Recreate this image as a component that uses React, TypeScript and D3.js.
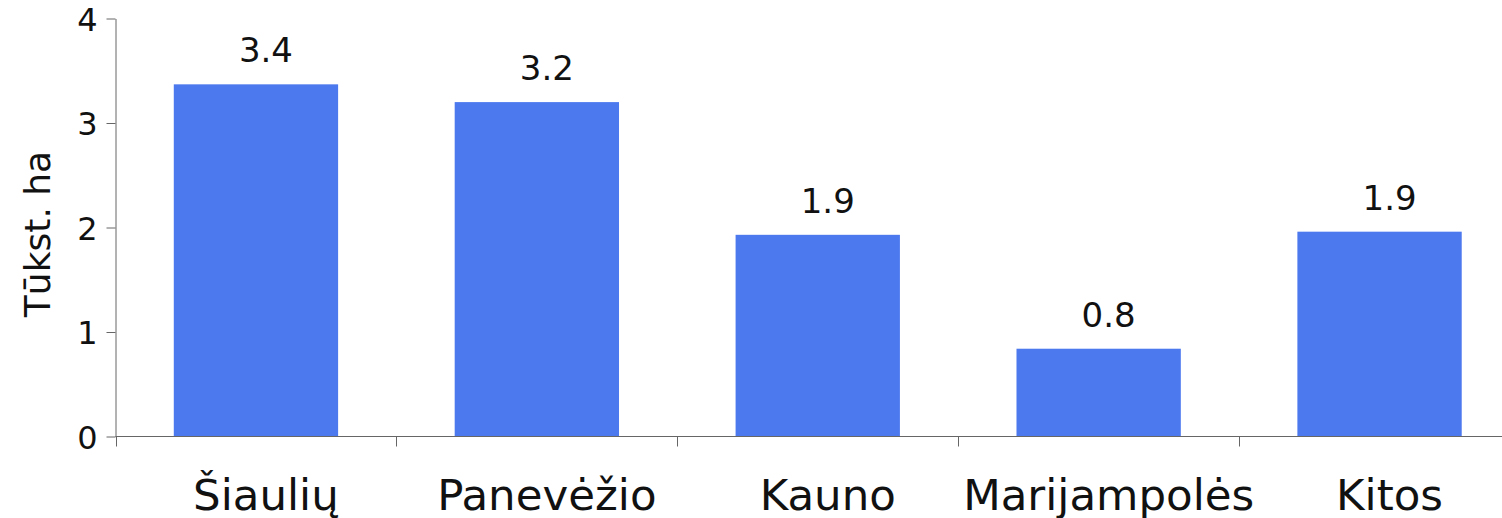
import { useEffect, useRef } from 'react';
import * as d3 from 'd3';

const categories = ['Šiaulių', 'Panevėžio', 'Kauno', 'Marijampolės', 'Kitos'];
const values = [3.37, 3.2, 1.93, 0.84, 1.96];
const valueLabels = ['3.4', '3.2', '1.9', '0.8', '1.9'];
const yTicks = [0, 1, 2, 3, 4];
const yTitle = 'Tūkst. ha';

export default function App() {
    const ref = useRef<SVGSVGElement | null>(null);

    useEffect(() => {
        const width = 1502;
        const height = 518;
        const left = 115.5;
        const right = 1520;
        const top = 18.5;
        const bottom = 436.5;
        const font = '"DejaVu Sans", Verdana, sans-serif';

        const svg = d3.select(ref.current);
        svg.selectAll('*').remove();
        svg.attr('width', width).attr('height', height).attr('viewBox', `0 0 ${width} ${height}`);

        const x = d3.scaleBand<string>()
            .domain(categories)
            .range([left, right])
            .paddingInner(0.415)
            .paddingOuter(0.2075);

        const y = d3.scaleLinear().domain([0, 4]).range([bottom, top]);

        // === Bars ===
        svg.append('g')
            .selectAll('rect')
            .data(values)
            .enter()
            .append('rect')
            .attr('x', (_, i) => x(categories[i])!)
            .attr('width', x.bandwidth())
            .attr('y', (d) => y(d))
            .attr('height', (d) => y(0) - y(d))
            .attr('fill', '#4d79ef');

        // === Value labels ===
        svg.append('g')
            .selectAll('text')
            .data(values)
            .enter()
            .append('text')
            .attr('x', (_, i) => x(categories[i])! + x.bandwidth() / 2 + 10)
            .attr('y', (d) => y(d) - 22)
            .attr('text-anchor', 'middle')
            .attr('font-family', font)
            .attr('font-size', '34px')
            .attr('fill', '#111')
            .text((_, i) => valueLabels[i]);

        // === Y axis ===
        const yAxis = svg.append('g')
            .attr('transform', `translate(${left},0)`)
            .call(d3.axisLeft(y).tickValues(yTicks).tickFormat(d3.format('d')).tickSize(9).tickSizeOuter(0).tickPadding(9));
        yAxis.select('.domain').attr('stroke', '#666');
        yAxis.selectAll('.tick line').attr('stroke', '#666');
        yAxis.selectAll('.tick text')
            .attr('font-family', font)
            .attr('font-size', '32px')
            .attr('fill', '#111')
            .attr('dy', '0.36em');

        // === X axis (band edges as ticks) ===
        const step = x.step();
        const edges = d3.range(categories.length + 1).map((i) => left + i * step);
        const xAxis = svg.append('g').attr('transform', `translate(0,${bottom})`);
        xAxis.append('line')
            .attr('x1', left)
            .attr('x2', right)
            .attr('stroke', '#666');
        xAxis.selectAll('.edge')
            .data(edges)
            .enter()
            .append('line')
            .attr('class', 'edge')
            .attr('x1', (d) => Math.round(d) + 0.5)
            .attr('x2', (d) => Math.round(d) + 0.5)
            .attr('y1', 0)
            .attr('y2', 10)
            .attr('stroke', '#666');
        xAxis.selectAll('.cat')
            .data(categories)
            .enter()
            .append('text')
            .attr('class', 'cat')
            .attr('x', (d) => x(d)! + x.bandwidth() / 2 + 10)
            .attr('y', 510 - bottom)
            .attr('text-anchor', 'middle')
            .attr('font-family', font)
            .attr('font-size', '43.5px')
            .attr('fill', '#111')
            .text((d) => d);

        // === Y title ===
        svg.append('text')
            .attr('transform', `translate(50,${234}) rotate(-90)`)
            .attr('text-anchor', 'middle')
            .attr('font-family', font)
            .attr('font-size', '36px')
            .attr('fill', '#111')
            .text(yTitle);
    }, []);

    return (
        <svg
            ref={ref}
            style={{ position: 'absolute', left: 0, top: 0, background: '#fff' }}
            width={1502}
            height={518}
        />
    );
}
